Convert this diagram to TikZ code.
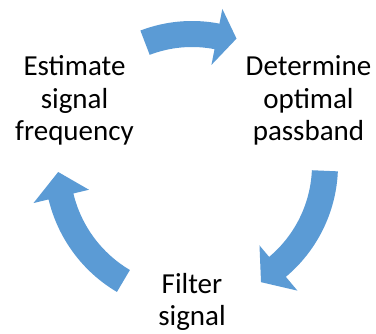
\documentclass[tikz,border=0pt]{standalone}
\usepackage{fontspec}
\setmainfont{Carlito}
\definecolor{accentblue}{HTML}{5B9BD5}
\tikzset{
  arrowfill/.style={fill=accentblue},
  label/.style={font=\fontsize{29}{32.5}\selectfont, align=center, anchor=base, inner sep=0pt}
}
\begin{document}
\begin{tikzpicture}[x=1pt,y=1pt]
\useasboundingbox[fill=white] (0,0) rectangle (376,334);
\coordinate (C) at (192,169);
% top arrow
\fill[arrowfill] ([shift={(C)}]111:144pt) arc[start angle=111,end angle=79,radius=144pt]
  -- ([shift={(C)}]79:159pt) -- ([shift={(C)}]70.6:134pt) -- ([shift={(C)}]79:102pt)
  -- ([shift={(C)}]79:118pt) arc[start angle=79,end angle=111,radius=118pt] -- cycle;
% right arrow
\fill[arrowfill] ([shift={(C)}]-2.5:146pt) arc[start angle=-2.5,end angle=-50,radius=146pt]
  -- ([shift={(C)}]-50:164pt) -- ([shift={(C)}]-59.5:136pt) -- ([shift={(C)}]-50:105pt)
  -- ([shift={(C)}]-50:120pt) arc[start angle=-50,end angle=-2.5,radius=120pt] -- cycle;
% left arrow
\fill[arrowfill] ([shift={(C)}]239.4:147.5pt) arc[start angle=239.4,end angle=193.5,radius=147.5pt]
  -- ([shift={(C)}]193.5:163pt) -- ([shift={(C)}]183:134pt) -- ([shift={(C)}]193.5:106pt)
  -- ([shift={(C)}]193.5:122pt) arc[start angle=193.5,end angle=239.4,radius=122pt] -- cycle;
\node[label] (est) at (74.5,193) {Estimate\\signal\\frequency};
\node[label] (det) at (308.5,193) {Determine\\optimal\\passband};
\node[label] (fil) at (192,8) {Filter\\signal};
\end{tikzpicture}
\end{document}
